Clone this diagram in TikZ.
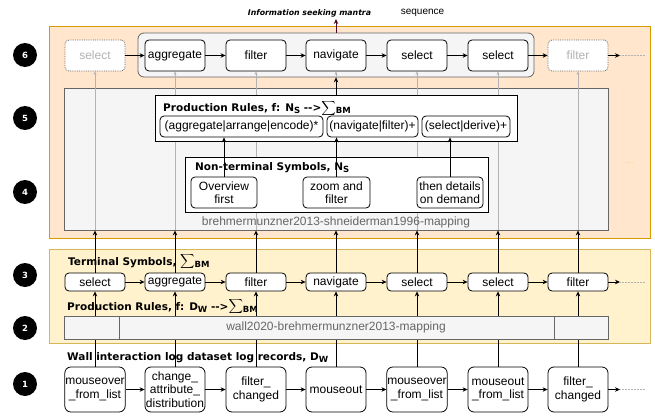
\documentclass[tikz,border=0pt]{standalone}
\usepackage{fontspec}
\setmainfont{Liberation Sans}
\newfontfamily\headfont{DejaVu Sans}
\usetikzlibrary{arrows.meta}

\definecolor{peach}{HTML}{FFE6CC}
\definecolor{peachline}{HTML}{D79B00}
\definecolor{cream}{HTML}{FFF2CC}
\definecolor{creamline}{HTML}{D6B656}
\definecolor{panel}{HTML}{F5F5F5}
\definecolor{panelline}{HTML}{666666}
\definecolor{faint}{HTML}{B3B3B3}
\definecolor{mantrared}{HTML}{4D0A26}

\pgfdeclarelayer{regions}
\pgfdeclarelayer{links}
\pgfsetlayers{regions,links,main}

\newcommand{\lowidx}[1]{\raisebox{-0.4ex}{\fontsize{8.5}{9}\selectfont #1}}
\newcommand{\sumBM}{\raisebox{1pt}{\fontsize{9.5}{10}\selectfont$\displaystyle\sum$}\lowidx{BM}}

\begin{document}
\begin{tikzpicture}[x=1pt, y=-1pt,
    act/.style={draw, fill=white, line width=0.8pt, rounded corners=4pt, minimum width=60pt,
        minimum height=31pt, inner sep=0.5pt, align=center, font=\fontsize{12}{13.5}\selectfont},
    ghost/.style={act, densely dotted, draw=panelline, text=faint},
    term/.style={act, minimum height=18pt},
    rec/.style={act, minimum height=45pt, rounded corners=6pt},
    rule/.style={act, minimum height=21pt},
    heading/.style={anchor=base west, inner sep=0pt, font=\headfont\bfseries\fontsize{10.5}{12}\selectfont},
    badge/.style={circle, fill=black, text=white, minimum size=24pt, inner sep=0pt,
        font=\headfont\bfseries\fontsize{8.5}{9}\selectfont},
    flow/.style={-{Stealth[length=5pt,width=4.5pt]}, line width=0.9pt},
    feed/.style={-{Stealth[length=3.5pt,width=3pt]}, draw=faint, line width=0.6pt},
    trail/.style={densely dotted, draw=faint, line width=0.5pt},
    note/.style={text=panelline, font=\fontsize{12}{14}\selectfont}]

    \useasboundingbox (0,0) rectangle (655,417);

    \begin{pgfonlayer}{regions}
        \draw[peachline, fill=peach, line width=0.8pt] (49,26) rectangle (650,238);
        \draw[creamline, fill=cream, line width=0.8pt] (49,249) rectangle (650,343);
        \node[draw=panelline, fill=panel, line width=0.8pt, rounded corners=6pt,
            minimum width=396pt, minimum height=44pt] (seq) at (336,55) {};
        \node[draw=panelline, fill=panel, line width=0.8pt,
            minimum width=544pt, minimum height=142pt] (shmap) at (336,159) {};
    \end{pgfonlayer}

    \node[font=\headfont\bfseries\itshape\fontsize{7.8}{9}\selectfont] (mantralabel) at (309.5,13) {Information seeking mantra};
    \node[font=\fontsize{10}{10}\selectfont] (seqlabel) at (422.5,13) {sequence};
    \coordinate (mantra) at (336,19);

    \node[badge] (b6) at (25,55) {6};
    \node[badge] (b5) at (25,118) {5};
    \node[badge] (b4) at (25,192) {4};
    \node[badge] (b3) at (25,275) {3};
    \node[badge] (b2) at (25,328) {2};
    \node[badge] (b1) at (25,384) {1};

    \node[ghost] (s1) at (95,55.5) {select};
    \node[act] (s2) at (175,55.5) {aggregate};
    \node[act] (s3) at (256,55.5) {filter};
    \node[act] (s4) at (336,55.5) {navigate};
    \node[act] (s5) at (417,55.5) {select};
    \node[act] (s6) at (498,55.5) {select};
    \node[ghost] (s7) at (578,55.5) {filter};
    \coordinate (s8) at (620,55.5);
    \coordinate (s9) at (645,55.5);

    \node[draw, fill=white, line width=0.8pt, minimum width=362pt, minimum height=46pt] (prodrules) at (336,118) {};
    \node[heading] (prodtitle) at (163,111.5) {Production Rules, f: N\lowidx{S} -\kern0pt-\kern0pt>\sumBM};
    \node[rule, minimum width=163pt] (pr1) at (241.5,126.5) {(aggregate|arrange|encode)*};
    \node[rule, minimum width=91pt] (pr2) at (372.5,126.5) {(navigate|filter)+};
    \node[rule, minimum width=88pt] (pr3) at (466,126.5) {(select|derive)+};

    \node[draw, fill=white, line width=0.8pt, minimum width=303pt, minimum height=55pt] (nonterm) at (336.5,184.5) {};
    \node[heading] (nontitle) at (195,170.5) {Non-terminal Symbols, N\lowidx{S}};
    \node[act, minimum width=66pt] (ns1) at (224,192.5) {Overview\\first};
    \node[act, minimum width=67pt] (ns2) at (336.5,192.5) {zoom and\\filter};
    \node[act, minimum width=66pt] (ns3) at (450,192.5) {then details\\on demand};
    \node[note] (shlabel) at (336,222) {brehmermunzner2013-shneiderman1996-mapping};
    \node[text=peachline!60, font=\fontsize{6}{6}\selectfont] (dots) at (629,163) {.....};

    \node[heading] (termtitle) at (68,265) {Terminal Symbols, \sumBM};
    \node[term] (t1) at (95,282) {select};
    \node[term] (t2) at (175,282) {aggregate};
    \node[term] (t3) at (256,282) {filter};
    \node[term] (t4) at (336,282) {navigate};
    \node[term] (t5) at (417,282) {select};
    \node[term] (t6) at (498,282) {select};
    \node[term] (t7) at (578,282) {filter};
    \coordinate (t8) at (620,282);
    \coordinate (t9) at (645,282);

    \node[heading] (walltitle) at (67,310) {Production Rules, f: D\lowidx{W} -\kern0pt-\kern0pt>\sumBM};
    \node[draw=panelline, fill=panel, line width=0.8pt, minimum width=544pt, minimum height=23pt] (wallmap) at (336,327.5) {};
    \draw[panelline, line width=0.8pt] (119,316) -- (119,339);
    \draw[panelline, line width=0.8pt] (554,316) -- (554,339);
    \node[note] (walllabel) at (336,327.5) {wall2020-brehmermunzner2013-mapping};

    \node[heading] (logtitle) at (67,360) {Wall interaction log dataset log records, D\lowidx{W}};
    \node[rec] (r1) at (95,389.5) {mouseover\\\_from\_list};
    \node[rec] (r2) at (175,389.5) {change\_\\attribute\_\\distribution};
    \node[rec] (r3) at (256,389.5) {filter\_\\changed};
    \node[rec] (r4) at (336,389.5) {mouseout};
    \node[rec] (r5) at (417,389.5) {mouseover\\\_from\_list};
    \node[rec] (r6) at (498,389.5) {mouseout\\\_from\_list};
    \node[rec] (r7) at (578,389.5) {filter\_\\changed};
    \coordinate (r8) at (620,389.5);
    \coordinate (r9) at (645,389.5);

    \begin{pgfonlayer}{links}
        \draw[feed] (s1.south |- shmap.south) -- (s1.south);
        \draw[feed] (s2.south |- shmap.south) -- (s2.south);
        \draw[feed] (s3.south |- shmap.south) -- (s3.south);
        \draw[feed] (prodrules.north -| s4) -- (s4.south);
        \draw[feed] (s5.south |- shmap.south) -- (s5.south);
        \draw[feed] (s6.south |- shmap.south) -- (s6.south);
        \draw[feed] (s7.south |- shmap.south) -- (s7.south);

        \draw[flow] (t1.north) -- (t1.north |- shmap.south);
        \draw[flow] (t2.north) -- (t2.north |- shmap.south);
        \draw[flow] (t3.north) -- (t3.north |- shmap.south);
        \draw[flow] (t4.north) -- (t4.north |- shmap.south);
        \draw[flow] (t5.north) -- (t5.north |- shmap.south);
        \draw[flow] (t6.north) -- (t6.north |- shmap.south);
        \draw[flow] (t7.north) -- (t7.north |- shmap.south);

        \draw[flow] (r1) -- (t1);
        \draw[flow] (r2) -- (t2);
        \draw[flow] (r3) -- (t3);
        \draw[flow] (r4) -- (t4);
        \draw[flow] (r5) -- (t5);
        \draw[flow] (r6) -- (t6);
        \draw[flow] (r7) -- (t7);
    \end{pgfonlayer}

    \draw[flow] (s1) -- (s2);
    \draw[flow] (s2) -- (s3);
    \draw[flow] (s3) -- (s4);
    \draw[flow] (s4) -- (s5);
    \draw[flow] (s5) -- (s6);
    \draw[flow] (s6) -- (s7);
    \draw[flow] (s7) -- (s8);
    \draw[trail] (s8) -- (s9);

    \draw[flow] (t1) -- (t2);
    \draw[flow] (t2) -- (t3);
    \draw[flow] (t3) -- (t4);
    \draw[flow] (t4) -- (t5);
    \draw[flow] (t5) -- (t6);
    \draw[flow] (t6) -- (t7);
    \draw[flow] (t7) -- (t8);
    \draw[trail] (t8) -- (t9);

    \draw[flow] (r1) -- (r2);
    \draw[flow] (r2) -- (r3);
    \draw[flow] (r3) -- (r4);
    \draw[flow] (r4) -- (r5);
    \draw[flow] (r5) -- (r6);
    \draw[flow] (r6) -- (r7);
    \draw[flow] (r7) -- (r8);
    \draw[trail] (r8) -- (r9);

    \draw[flow] (ns1.north) -- (ns1.north |- pr1.south);
    \draw[flow] (ns2.north) -- (ns2.north |- pr2.south);
    \draw[flow] (ns3.north) -- (ns3.north |- pr3.south);
    \draw[flow] (prodrules.north -| s4) -- (seq.south -| s4);
    \draw[flow, mantrared] (seq.north) -- (mantra);
\end{tikzpicture}
\end{document}
